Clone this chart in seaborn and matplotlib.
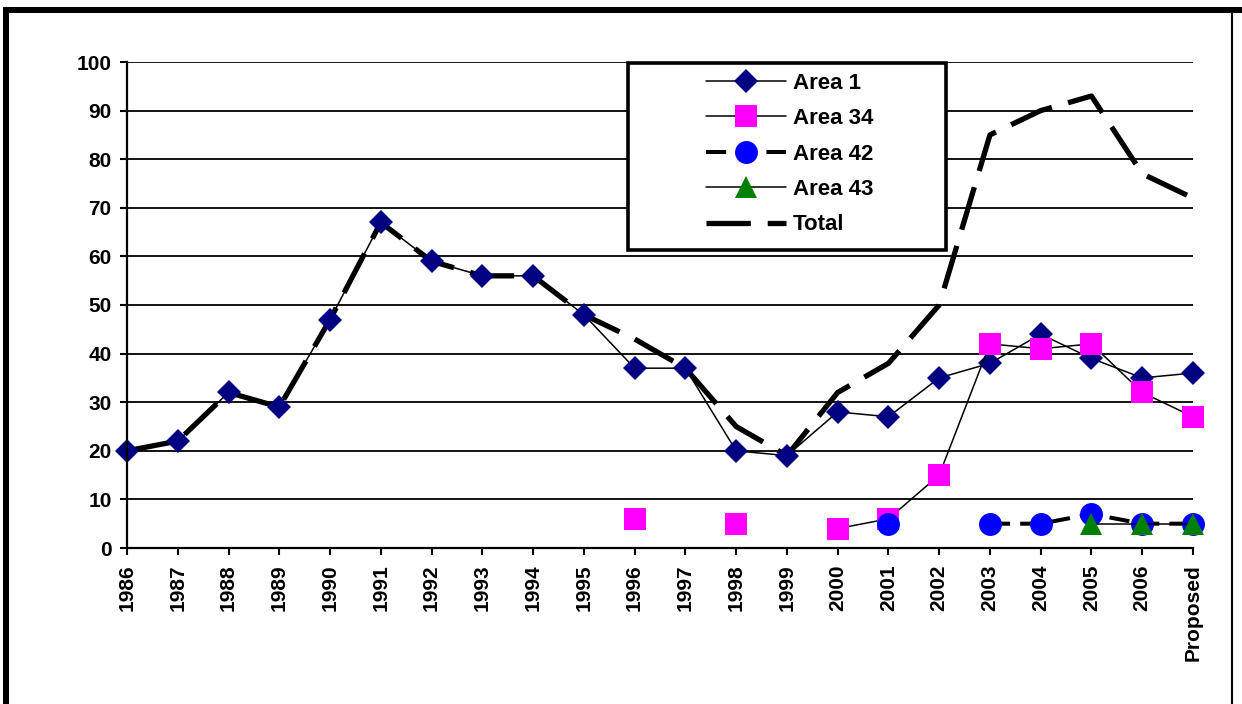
import numpy as np
import pandas as pd
import matplotlib.pyplot as plt
import seaborn as sns
from matplotlib.patches import Rectangle
from matplotlib.lines import Line2D

# values
labels = [str(y) for y in range(1986, 2007)] + ["Proposed"]
area1 = [20, 22, 32, 29, 47, 67, 59, 56, 56, 48, 37, 37, 20, 19, 28, 27, 35, 38, 44, 39, 35, 36]
area34 = [np.nan] * 10 + [6, np.nan, 5, np.nan, 4, 6, 15, 42, 41, 42, 32, 27]
area42 = [np.nan] * 15 + [5, np.nan, 5, 5, 7, 5, 5]
area43 = [np.nan] * 19 + [5, 5, 5]
total = [20, 22, 32, 29, 47, 67, 59, 56, 56, 48, 43, 37, 25, 19, 32, 38, 50, 85, 90, 93, 77, 72]

sns.set_style("white")
plt.rcParams["font.family"] = ["Liberation Sans", "DejaVu Sans"]
plt.rcParams["font.weight"] = "bold"
plt.rcParams["text.color"] = "black"
plt.rcParams["xtick.color"] = "black"
plt.rcParams["ytick.color"] = "black"


def segments(values):
    # split a series at its gaps so that lineplot does not bridge them
    df = pd.DataFrame({"pos": np.arange(len(values)), "value": values})
    df["seg"] = df["value"].isna().cumsum()
    return df.dropna()


fig = plt.figure(figsize=(12.42, 7.04), dpi=100)
ax = fig.add_axes([127 / 1242, 1 - 548 / 704, 1066 / 1242, 486 / 704])

series = [
    ("Total", total, dict(color="black", lw=3.8, linestyle=(0, (8.4, 3.2)), marker=None), 2.1),
    ("Area 1", area1, dict(color="black", lw=1.1, marker="D", ms=12, markerfacecolor="#000080",
                           markeredgecolor="#000080", markeredgewidth=0), 2.2),
    ("Area 34", area34, dict(color="black", lw=1.1, marker="s", ms=16, markerfacecolor="#FF00FF",
                             markeredgecolor="#FF00FF", markeredgewidth=0), 2.3),
    ("Area 42", area42, dict(color="black", lw=2.9, linestyle=(0, (5, 2.5)), marker="o", ms=16.5,
                             markerfacecolor="#0000FF", markeredgecolor="#0000FF", markeredgewidth=0), 2.4),
    ("Area 43", area43, dict(color="black", lw=1.1, marker="^", ms=16, markerfacecolor="#008000",
                             markeredgecolor="#008000", markeredgewidth=0), 2.5),
]

handles = {}
for name, vals, kws, z in series:
    sns.lineplot(data=segments(vals), x="pos", y="value", units="seg", estimator=None,
                 ax=ax, zorder=z, clip_on=False, **kws)
    handles[name] = ax.lines[-1]

ax.set_xlim(0, len(labels) - 1)
ax.set_ylim(0, 100)
ax.set_yticks(range(0, 101, 10))
ax.set_xticks(range(len(labels)))
ax.set_xticklabels(labels, rotation=90, fontsize=15, fontweight="bold", color="black")
ax.tick_params(axis="y", labelsize=15, direction="out", length=5, width=1.5, pad=6, left=True,
               labelcolor="black")
ax.tick_params(axis="x", direction="out", length=5, width=1.5, pad=7, bottom=True)
for lab in ax.get_yticklabels():
    lab.set_fontweight("bold")
ax.set_xlabel("")
ax.set_ylabel("")
ax.yaxis.grid(True, color="black", lw=1.3)
ax.set_axisbelow(True)
for side in ["top", "right"]:
    ax.spines[side].set_visible(False)
for side in ["left", "bottom"]:
    ax.spines[side].set_color("black")
    ax.spines[side].set_linewidth(1.6)

# legend box
ax.add_patch(Rectangle(((628 - 127) / 1066, (548 - 250) / 486), 318 / 1066, 187 / 486,
                       transform=ax.transAxes, facecolor="white", edgecolor="black",
                       lw=2.6, zorder=4.5, clip_on=False))
order = ["Area 1", "Area 34", "Area 42", "Area 43", "Total"]
leg = ax.legend([handles[n] for n in order], order, loc="center",
                bbox_to_anchor=((790 - 127) / 1066, 1 - (154 - 62) / 486),
                frameon=False, fontsize=16, handlelength=3.6, handletextpad=0.3,
                labelspacing=0.65, borderpad=0)
for t in leg.get_texts():
    t.set_fontweight("bold")
    t.set_color("black")
leg.set_zorder(5)

# outer frame
fig.add_artist(Rectangle((3 / 1242, 1 - 13 / 704), 1239 / 1242, 6 / 704,
                         transform=fig.transFigure, color="black", lw=0))
fig.add_artist(Rectangle((3 / 1242, 0), 6 / 1242, 1 - 7 / 704,
                         transform=fig.transFigure, color="black", lw=0))
fig.add_artist(Line2D([1232 / 1242, 1232 / 1242], [0, 1 - 13 / 704],
                      transform=fig.transFigure, color="black", lw=1.5))

fig.savefig("out.png", dpi=100)
